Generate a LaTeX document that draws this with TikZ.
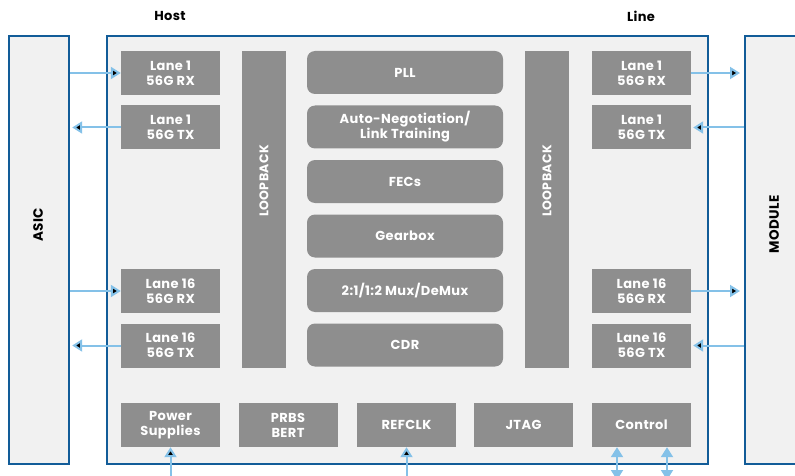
\documentclass[tikz,border=0pt]{standalone}
\usepackage{fontspec}
\setmainfont{Poppins}[LetterSpace=3]
\usetikzlibrary{arrows.meta}
\definecolor{boxgray}{RGB}{142,142,142}
\definecolor{panel}{RGB}{241,241,241}
\definecolor{edgeblue}{RGB}{18,92,152}
\definecolor{wireblue}{RGB}{132,193,232}
\begin{document}
\begin{tikzpicture}[x=1pt, y=-1pt, node distance=54.5pt,
    outer/.style={draw=edgeblue, fill=panel, line width=2.2pt},
    lane node/.style={fill=boxgray, minimum width=99pt, minimum height=44pt, inner sep=0pt,
                      text=white, align=center, font=\fontsize{13}{15}\selectfont\bfseries},
    core node/.style={lane node, rounded corners=8pt, minimum width=196pt, minimum height=43pt},
    loop node/.style={fill=boxgray, minimum width=44pt, minimum height=317pt, inner sep=0pt},
    side text/.style={rotate=90, font=\fontsize{13.5}{15}\selectfont\bfseries},
    wire/.style={draw=wireblue, line width=2pt, -{Triangle[length=10pt,width=12pt]}},
    dwire/.style={wire, {Triangle[length=10pt,width=12pt]}-{Triangle[length=10pt,width=12pt]}}]

  \useasboundingbox (0,0) rectangle (795,476);

  % outer boxes
  \node[outer, minimum width=60pt, minimum height=428pt, inner sep=0pt, anchor=north west] (asic) at (8,35) {};
  \node[outer, minimum width=601pt, minimum height=428pt, inner sep=0pt, anchor=north west] (chip) at (106,35) {};
  \node[outer, minimum width=70pt, minimum height=428pt, inner sep=0pt, anchor=north west] (module) at (744,35) {};
  \node[side text] (asictxt) at (38,225) {ASIC};
  \node[side text] (moduletxt) at (774,224) {MODULE};

  \node[font=\fontsize{13}{15}\selectfont\bfseries] (host) at (170,16) {Host};
  \node[font=\fontsize{13}{15}\selectfont\bfseries] (line) at (641,16) {Line};

  % host lanes
  \node[lane node] (1) at (170.5,73) {Lane 1\\56G RX};
  \node[lane node] (2) [below of=1] {Lane 1\\56G TX};
  \node[lane node] (3) at (170.5,291) {Lane 16\\56G RX};
  \node[lane node] (4) [below of=3] {Lane 16\\56G TX};

  % line lanes
  \node[lane node] (5) at (641.5,73) {Lane 1\\56G RX};
  \node[lane node] (6) [below of=5] {Lane 1\\56G TX};
  \node[lane node] (7) at (641.5,291) {Lane 16\\56G RX};
  \node[lane node] (8) [below of=7] {Lane 16\\56G TX};

  % loopbacks
  \node[loop node, anchor=north] (lbL) at (264,51) {};
  \node[loop node, anchor=north] (lbR) at (547,51) {};
  \node[side text, text=white, font=\fontsize{12.5}{14}\selectfont\bfseries] (lbLtxt) at (264,181) {LOOPBACK};
  \node[side text, text=white, font=\fontsize{12.5}{14}\selectfont\bfseries] (lbRtxt) at (547,181) {LOOPBACK};

  % core blocks
  \node[core node] (pll) at (405,72.5) {PLL};
  \node[core node] (an) [below of=pll] {Auto-Negotiation/\\Link Training};
  \node[core node] (fec) [below of=an] {FECs};
  \node[core node] (gb) [below of=fec] {Gearbox};
  \node[core node] (mux) [below of=gb] {2:1/1:2 Mux/DeMux};
  \node[core node] (cdr) [below of=mux] {CDR};

  % bottom row
  \node[lane node] (pwr) at (170.5,425) {Power\\Supplies};
  \node[lane node] (prbs) at (288,425) {PRBS\\BERT};
  \node[lane node] (ref) at (406.5,425) {REFCLK};
  \node[lane node] (jtag) at (523.5,425) {JTAG};
  \node[lane node] (ctl) at (641.5,425) {Control};

  \coordinate (pwrin) at (pwr.south |- 0,480);
  \coordinate (refin) at (ref.south |- 0,480);
  \coordinate (ctlA) at (617,482);
  \coordinate (ctlB) at (667,482);

  % connectors
  \path[wire]
    (1.west -| asic.east) edge (1)
    (2) edge[shorten >=2pt] (2.west -| asic.east)
    (3.west -| asic.east) edge (3)
    (4) edge[shorten >=2pt] (4.west -| asic.east)
    (5) edge[shorten >=4pt] (5.east -| module.west)
    (6.east -| module.west) edge[shorten >=2pt] (6)
    (7) edge[shorten >=4pt] (7.east -| module.west)
    (8.east -| module.west) edge[shorten >=2pt] (8)
    (pwrin) edge (pwr)
    (refin) edge (ref);
  \draw[dwire, shorten <=2pt] (ctlA) -- (ctlA |- ctl.south);
  \draw[dwire, shorten <=2pt] (ctlB) -- (ctlB |- ctl.south);

\end{tikzpicture}
\end{document}
